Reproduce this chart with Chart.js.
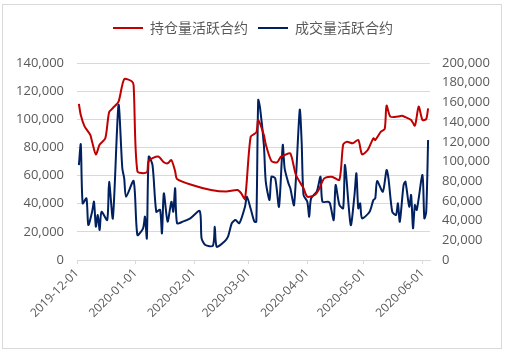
<!DOCTYPE html>
<html>
<head>
<meta charset="utf-8">
<script src="https://cdn.jsdelivr.net/npm/chart.js@4.4.0/dist/chart.umd.min.js"></script>
<style>
  html, body { margin: 0; padding: 0; background: #fff; }
  #wrap { width: 506px; height: 352px; }
</style>
</head>
<body>
<div id="wrap"><canvas id="chart" width="506" height="352"></canvas></div>
<script>
// axis origin and month ticks
const startDate = '2019-12-01';
const monthTicks = ['2019-12-01', '2020-01-01', '2020-02-01', '2020-03-01', '2020-04-01', '2020-05-01', '2020-06-01'];
const axisEndDay = 187;

const seriesNames = ['持仓量活跃合约', '成交量活跃合约'];

// 持仓量活跃合约 (left axis)
const oiDates = [
  '2019-12-02', '2019-12-03', '2019-12-05', '2019-12-08', '2019-12-09', '2019-12-11', '2019-12-13',
  '2019-12-16', '2019-12-18', '2019-12-20', '2019-12-23', '2019-12-26', '2019-12-30', '2019-12-31',
  '2020-01-02', '2020-01-07', '2020-01-08', '2020-01-13', '2020-01-16', '2020-01-18', '2020-01-20',
  '2020-01-22', '2020-01-23', '2020-01-31', '2020-02-10', '2020-02-18', '2020-02-24', '2020-02-26',
  '2020-02-28', '2020-03-02', '2020-03-05', '2020-03-06', '2020-03-09', '2020-03-10', '2020-03-13',
  '2020-03-16', '2020-03-18', '2020-03-20', '2020-03-23', '2020-03-26', '2020-03-30', '2020-04-01',
  '2020-04-05', '2020-04-07', '2020-04-10', '2020-04-14', '2020-04-18', '2020-04-20', '2020-04-22',
  '2020-04-25', '2020-04-28', '2020-04-30', '2020-05-03', '2020-05-06', '2020-05-07', '2020-05-10',
  '2020-05-12', '2020-05-13', '2020-05-15', '2020-05-19', '2020-05-21', '2020-05-23', '2020-05-26',
  '2020-05-28', '2020-05-30', '2020-06-01', '2020-06-03', '2020-06-04'
];
const oiValues = [
  111000, 103000, 95000, 89000, 84000, 75000, 82000,
  86500, 105000, 108000, 112500, 128500, 127000, 124000,
  63000, 62300, 70500, 73500, 69500, 68700, 71000,
  63000, 57600, 53300, 49700, 48600, 49700, 47400,
  43400, 87600, 90700, 99500, 88800, 82200, 70400,
  69400, 73400, 74600, 75800, 60400, 51000, 45000,
  46200, 49700, 58000, 59200, 57000, 82000, 84100,
  82900, 85300, 75100, 78200, 86500, 85300, 91200,
  93100, 109700, 101900, 101900, 102500, 101500, 99500,
  95500, 109000, 99500, 100200, 107800
];

// 成交量活跃合约 (right axis)
const volDates = [
  '2019-12-02', '2019-12-03', '2019-12-04', '2019-12-06', '2019-12-07', '2019-12-09', '2019-12-10',
  '2019-12-11', '2019-12-12', '2019-12-13', '2019-12-14', '2019-12-17', '2019-12-18', '2019-12-20',
  '2019-12-23', '2019-12-25', '2019-12-26', '2019-12-27', '2019-12-31', '2020-01-02', '2020-01-05',
  '2020-01-06', '2020-01-07', '2020-01-08', '2020-01-10', '2020-01-12', '2020-01-14', '2020-01-15',
  '2020-01-16', '2020-01-18', '2020-01-20', '2020-01-21', '2020-01-22', '2020-01-23', '2020-01-26',
  '2020-01-30', '2020-02-04', '2020-02-05', '2020-02-07', '2020-02-11', '2020-02-12', '2020-02-13',
  '2020-02-17', '2020-02-19', '2020-02-21', '2020-02-23', '2020-02-25', '2020-02-28', '2020-02-29',
  '2020-03-02', '2020-03-04', '2020-03-05', '2020-03-06', '2020-03-07', '2020-03-09', '2020-03-10',
  '2020-03-12', '2020-03-13', '2020-03-15', '2020-03-17', '2020-03-19', '2020-03-20', '2020-03-22',
  '2020-03-23', '2020-03-25', '2020-03-28', '2020-03-29', '2020-03-30', '2020-04-01', '2020-04-02',
  '2020-04-03', '2020-04-06', '2020-04-08', '2020-04-09', '2020-04-12', '2020-04-13', '2020-04-15',
  '2020-04-16', '2020-04-18', '2020-04-20', '2020-04-21', '2020-04-24', '2020-04-26', '2020-04-27',
  '2020-04-28', '2020-04-29', '2020-04-30', '2020-05-04', '2020-05-06', '2020-05-07', '2020-05-08',
  '2020-05-11', '2020-05-13', '2020-05-14', '2020-05-16', '2020-05-18', '2020-05-19', '2020-05-20',
  '2020-05-22', '2020-05-23', '2020-05-25', '2020-05-26', '2020-05-27', '2020-05-28', '2020-05-29',
  '2020-06-01', '2020-06-02', '2020-06-03', '2020-06-04'
];
const volValues = [
  96400, 117500, 57500, 62600, 35500, 49000, 59200,
  33800, 45700, 30500, 49000, 40600, 79500, 42300,
  157400, 93100, 82900, 64300, 80200, 25400, 32200,
  44000, 22000, 104900, 96400, 49000, 51000, 27000,
  67700, 38900, 59200, 49000, 72800, 37300, 38900,
  42300, 49700, 22000, 15200, 14500, 33800, 13500,
  18600, 23700, 37300, 40600, 37300, 54100, 64300,
  52000, 38900, 38900, 162400, 154000, 116700, 79500,
  60900, 84600, 82900, 54100, 116700, 93100, 77900,
  72800, 55800, 152300, 120100, 66000, 59200, 44000,
  62600, 69300, 84600, 59200, 59200, 57500, 40600,
  76100, 56000, 52500, 96400, 35500, 66000, 88000,
  52500, 57500, 42300, 49000, 60900, 62600, 80200,
  69300, 91400, 82900, 49000, 45700, 57500, 38900,
  76100, 79500, 54100, 66000, 32200, 55800, 50800,
  86300, 42300, 49000, 121800
];

const leftMax = 140000, rightMax = 200000, tickStep = 20000;

function dayOf(s) { return (Date.parse(s) - Date.parse(startDate)) / 86400000; }
function toPoints(dates, values) { return dates.map((d, i) => ({ x: dayOf(d), y: values[i] })); }
const tickDays = monthTicks.map(dayOf);

const textColor = '#595959';
const gridColor = '#d9d9d9';
const numFont = { family: "'Open Sans', 'Noto Sans CJK SC', sans-serif", size: 13 };

// frame + white background
const frame = {
  id: 'frame',
  beforeDraw(chart) {
    const ctx = chart.ctx;
    ctx.save();
    ctx.fillStyle = '#fff';
    ctx.fillRect(0, 0, chart.width, chart.height);
    ctx.strokeStyle = gridColor;
    ctx.lineWidth = 1;
    ctx.strokeRect(2.5, 4.5, 499, 344);
    ctx.restore();
  }
};

// extra space under the legend
const legendGap = {
  id: 'legendGap',
  beforeInit(chart) {
    const fit = chart.legend.fit;
    chart.legend.fit = function () {
      fit.bind(chart.legend)();
      this.height += 18;
    };
  }
};

new Chart(document.getElementById('chart'), {
  type: 'line',
  data: {
    datasets: [
      {
        label: seriesNames[0],
        data: toPoints(oiDates, oiValues),
        borderColor: '#c00000',
        backgroundColor: '#c00000',
        borderWidth: 2,
        pointRadius: 0,
        tension: 0.25,
        yAxisID: 'y'
      },
      {
        label: seriesNames[1],
        data: toPoints(volDates, volValues),
        borderColor: '#002060',
        backgroundColor: '#002060',
        borderWidth: 2,
        pointRadius: 0,
        tension: 0.25,
        yAxisID: 'y1'
      }
    ]
  },
  options: {
    responsive: false,
    animation: false,
    layout: { padding: { top: 11, left: 0, right: 0, bottom: 0 } },
    plugins: {
      tooltip: { enabled: false },
      legend: {
        position: 'top',
        labels: {
          usePointStyle: true,
          pointStyle: 'line',
          pointStyleWidth: 30,
          padding: 10,
          color: textColor,
          font: { family: "'Noto Sans CJK SC', sans-serif", size: 14 }
        }
      }
    },
    scales: {
      x: {
        type: 'linear',
        min: 0,
        max: axisEndDay,
        afterBuildTicks: s => { s.ticks = tickDays.map(v => ({ value: v })); },
        afterFit: s => { s.height = 92; },
        grid: { drawOnChartArea: false, drawTicks: true, tickLength: 4, color: gridColor },
        border: { display: true, color: gridColor },
        ticks: {
          autoSkip: false,
          minRotation: 45,
          maxRotation: 45,
          padding: 2,
          color: textColor,
          font: { family: numFont.family, size: 12 },
          callback: v => monthTicks[tickDays.indexOf(v)] || ''
        }
      },
      y: {
        position: 'left',
        min: 0,
        max: leftMax,
        afterFit: s => { s.width = 77; },
        grid: { color: gridColor, drawTicks: false },
        border: { display: false },
        ticks: {
          stepSize: tickStep,
          padding: 13,
          color: textColor,
          font: numFont,
          callback: v => v.toLocaleString('en-US')
        }
      },
      y1: {
        position: 'right',
        min: 0,
        max: rightMax,
        afterFit: s => { s.width = 76; },
        grid: { drawOnChartArea: false, drawTicks: false },
        border: { display: false },
        ticks: {
          stepSize: tickStep,
          padding: 12,
          color: textColor,
          font: numFont,
          callback: v => v.toLocaleString('en-US')
        }
      }
    }
  },
  plugins: [frame, legendGap]
});
</script>
</body>
</html>
